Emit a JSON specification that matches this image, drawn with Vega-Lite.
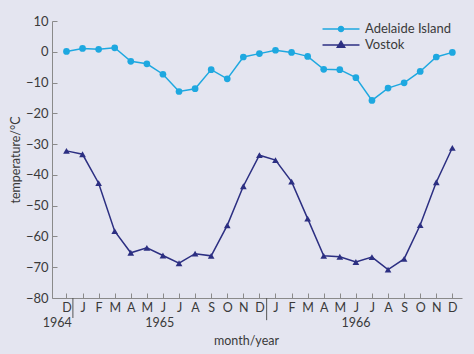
{
  "$schema": "https://vega.github.io/schema/vega-lite/v6.json",
  "width": 410,
  "height": 277,
  "autosize": {"type": "none"},
  "padding": {"left": 52, "top": 21, "right": 12, "bottom": 56},
  "background": "#e4e5f0",
  "config": {
    "view": {"stroke": null},
    "font": "Lato",
    "axis": {"labelColor": "#3a3a3a", "titleColor": "#3a3a3a", "labelFont": "Lato", "titleFont": "Lato", "titleFontWeight": "normal"}
  },
  "datasets": {
    "temps": [
      {"i": 0, "station": "Adelaide Island", "t": 0.1},
      {"i": 1, "station": "Adelaide Island", "t": 1.1},
      {"i": 2, "station": "Adelaide Island", "t": 0.8},
      {"i": 3, "station": "Adelaide Island", "t": 1.3},
      {"i": 4, "station": "Adelaide Island", "t": -3.1},
      {"i": 5, "station": "Adelaide Island", "t": -3.9},
      {"i": 6, "station": "Adelaide Island", "t": -7.3},
      {"i": 7, "station": "Adelaide Island", "t": -12.9},
      {"i": 8, "station": "Adelaide Island", "t": -12.0},
      {"i": 9, "station": "Adelaide Island", "t": -5.8},
      {"i": 10, "station": "Adelaide Island", "t": -8.8},
      {"i": 11, "station": "Adelaide Island", "t": -1.7},
      {"i": 12, "station": "Adelaide Island", "t": -0.6},
      {"i": 13, "station": "Adelaide Island", "t": 0.5},
      {"i": 14, "station": "Adelaide Island", "t": -0.2},
      {"i": 15, "station": "Adelaide Island", "t": -1.5},
      {"i": 16, "station": "Adelaide Island", "t": -5.7},
      {"i": 17, "station": "Adelaide Island", "t": -5.8},
      {"i": 18, "station": "Adelaide Island", "t": -8.4},
      {"i": 19, "station": "Adelaide Island", "t": -15.8},
      {"i": 20, "station": "Adelaide Island", "t": -11.8},
      {"i": 21, "station": "Adelaide Island", "t": -10.1},
      {"i": 22, "station": "Adelaide Island", "t": -6.4},
      {"i": 23, "station": "Adelaide Island", "t": -1.7},
      {"i": 24, "station": "Adelaide Island", "t": -0.2},
      {"i": 0, "station": "Vostok", "t": -32.2},
      {"i": 1, "station": "Vostok", "t": -33.3},
      {"i": 2, "station": "Vostok", "t": -42.7},
      {"i": 3, "station": "Vostok", "t": -58.3},
      {"i": 4, "station": "Vostok", "t": -65.3},
      {"i": 5, "station": "Vostok", "t": -63.7},
      {"i": 6, "station": "Vostok", "t": -66.2},
      {"i": 7, "station": "Vostok", "t": -68.7},
      {"i": 8, "station": "Vostok", "t": -65.6},
      {"i": 9, "station": "Vostok", "t": -66.3},
      {"i": 10, "station": "Vostok", "t": -56.4},
      {"i": 11, "station": "Vostok", "t": -43.7},
      {"i": 12, "station": "Vostok", "t": -33.6},
      {"i": 13, "station": "Vostok", "t": -35.2},
      {"i": 14, "station": "Vostok", "t": -42.2},
      {"i": 15, "station": "Vostok", "t": -54.2},
      {"i": 16, "station": "Vostok", "t": -66.3},
      {"i": 17, "station": "Vostok", "t": -66.6},
      {"i": 18, "station": "Vostok", "t": -68.3},
      {"i": 19, "station": "Vostok", "t": -66.7},
      {"i": 20, "station": "Vostok", "t": -70.8},
      {"i": 21, "station": "Vostok", "t": -67.3},
      {"i": 22, "station": "Vostok", "t": -56.3},
      {"i": 23, "station": "Vostok", "t": -42.4},
      {"i": 24, "station": "Vostok", "t": -31.2}
    ],
    "years": [
      {"i": -0.58, "t": -88.0, "label": "1964"},
      {"i": 5.8, "t": -88.0, "label": "1965"},
      {"i": 18.0, "t": -88.0, "label": "1966"}
    ],
    "seps": [
      {"i": 0.4, "t": -80, "t2": -86.5},
      {"i": 12.45, "t": -80, "t2": -87.2}
    ]
  },
  "encoding": {
    "x": {
      "field": "i", "type": "quantitative",
      "scale": {"domain": [-0.9, 24.6], "nice": false, "zero": false},
      "axis": {
        "values": [0,1,2,3,4,5,6,7,8,9,10,11,12,13,14,15,16,17,18,19,20,21,22,23,24],
        "labelExpr": "['D','J','F','M','A','M','J','J','A','S','O','N'][datum.value % 12]",
        "grid": false, "domainColor": "#8a8a8a", "tickColor": "#8a8a8a",
        "tickSize": -5, "labelPadding": 8, "labelFontSize": 12.5, "labelFlush": false, "labelOverlap": false,
        "title": "month/year", "titleFontSize": 12.5, "titleX": 194, "titleY": 42, "titleBaseline": "middle"
      }
    },
    "y": {
      "field": "t", "type": "quantitative",
      "scale": {"domain": [-80, 10], "nice": false, "zero": false},
      "axis": {
        "values": [-80,-70,-60,-50,-40,-30,-20,-10,0,10],
        "grid": false, "domainColor": "#8a8a8a", "tickColor": "#8a8a8a",
        "tickSize": -5, "labelPadding": 9, "labelFontSize": 13, "labelOverlap": false,
        "title": "temperature/°C", "titleFontSize": 12.5, "titlePadding": 3
      }
    }
  },
  "layer": [
    {
      "data": {"name": "temps"},
      "mark": {"type": "line", "strokeWidth": 1.5},
      "encoding": {
        "color": {
          "field": "station", "type": "nominal",
          "scale": {"domain": ["Adelaide Island", "Vostok"], "range": ["#1ea8e0", "#2c2f82"]},
          "legend": {
            "title": null, "orient": "none", "legendX": 281, "legendY": 0,
            "padding": 0, "rowPadding": 1, "labelFontSize": 13, "labelColor": "#3a3a3a",
            "labelOffset": 16, "symbolSize": 196, "symbolStrokeWidth": 1.3,
            "encode": {
              "symbols": {
                "update": {
                  "shape": {"signal": "datum.value === 'Vostok' ? 'M-2.64,0H2.64M0,-0.55L0.55,0.35L-0.55,0.35Z' : 'M-2.64,0H2.64M0.38,0A0.38,0.38,0,1,1,-0.38,0A0.38,0.38,0,1,1,0.38,0Z'"},
                  "fill": {"scale": "color", "field": "value"},
                  "stroke": {"scale": "color", "field": "value"},
                  "opacity": {"value": 1}
                }
              }
            }
          }
        }
      }
    },
    {
      "data": {"name": "temps"},
      "transform": [{"filter": "datum.station === 'Adelaide Island'"}],
      "mark": {"type": "point", "filled": true, "opacity": 1, "shape": "circle", "color": "#1ea8e0", "size": 45}
    },
    {
      "data": {"name": "temps"},
      "transform": [{"filter": "datum.station === 'Vostok'"}],
      "mark": {"type": "point", "filled": true, "opacity": 1, "shape": "triangle-up", "color": "#2c2f82", "size": 45}
    },
    {
      "data": {"name": "seps"},
      "mark": {"type": "rule", "color": "#555555", "strokeWidth": 1},
      "encoding": {
        "y2": {"field": "t2"}
      }
    },
    {
      "data": {"name": "years"},
      "mark": {"type": "text", "fontSize": 12.5, "color": "#3a3a3a", "font": "Lato", "baseline": "middle", "align": "center"},
      "encoding": {
        "text": {"field": "label"}
      }
    }
  ]
}
